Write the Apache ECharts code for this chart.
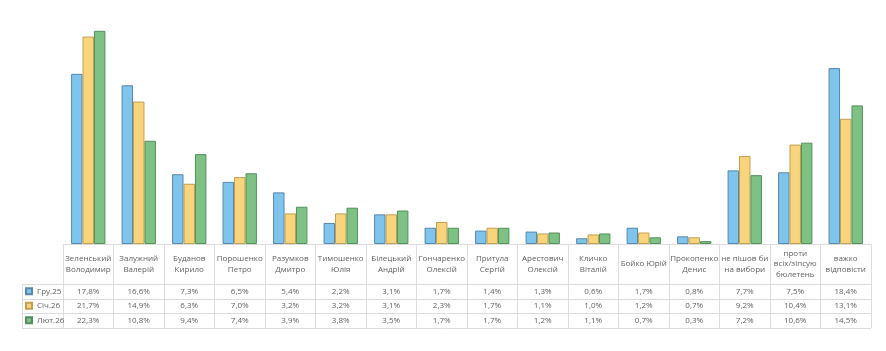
<!DOCTYPE html>
<html>
<head>
<meta charset="utf-8">
<script src="https://cdn.jsdelivr.net/npm/echarts@6/dist/echarts.min.js"></script>
<style>
    html, body { margin: 0; padding: 0; background: #fff; }
    #chart { width: 886px; height: 351px; }
</style>
</head>
<body>
<div id="chart"></div>
<script>
    'use strict';

    const candidates = [
        'Зеленський\nВолодимир', 'Залужний\nВалерій', 'Буданов\nКирило', 'Порошенко\nПетро',
        'Разумков\nДмитро', 'Тимошенко\nЮлія', 'Білецький\nАндрій', 'Гончаренко\nОлексій',
        'Притула\nСергій', 'Арестович\nОлексій', 'Кличко\nВіталій', 'Бойко Юрій',
        'Прокопенко\nДенис', 'не пішов би\nна вибори', 'проти\nвсіх/зіпсую\nбюлетень', 'важко\nвідповісти'
    ];
    const periods = ['Гру.25', 'Січ.26', 'Лют.26'];
    const dec25 = [17.8, 16.6, 7.3, 6.5, 5.4, 2.2, 3.1, 1.7, 1.4, 1.3, 0.6, 1.7, 0.8, 7.7, 7.5, 18.4];
    const jan26 = [21.7, 14.9, 6.3, 7.0, 3.2, 3.2, 3.1, 2.3, 1.7, 1.1, 1.0, 1.2, 0.7, 9.2, 10.4, 13.1];
    const feb26 = [22.3, 10.8, 9.4, 7.4, 3.9, 3.8, 3.5, 1.7, 1.7, 1.2, 1.1, 0.7, 0.3, 7.2, 10.6, 14.5];

    const values = [dec25, jan26, feb26];
    const fills = ['#7fc4ec', '#f8d47c', '#7dc185'];
    const borders = ['#5687ad', '#c29f52', '#53905b'];

    const font = '"Open Sans", sans-serif';
    const textColor = '#5f5f5f';
    const lineColor = '#dcdcdc';

    // table geometry (px)
    const tableLeft = 22, tableRight = 871, baseY = 244;
    const rowLines = [284, 299, 313, 328];
    const rowCenters = [291.5, 306, 320.5];

    const pct = v => v.toFixed(1).replace('.', ',') + '%';

    const chart = echarts.init(document.getElementById('chart'), null, { renderer: 'canvas' });

    const xAxes = [{
        type: 'category',
        data: candidates,
        position: 'bottom',
        axisLine: { show: true, lineStyle: { color: lineColor, width: 1 } },
        axisTick: { show: true, interval: 0, length: rowLines[3] - baseY, lineStyle: { color: lineColor } },
        axisLabel: {
            interval: 0, margin: 20, verticalAlign: 'middle',
            fontFamily: font, fontSize: 8, lineHeight: 10.5, color: textColor
        }
    }];
    values.forEach((arr, r) => {
        xAxes.push({
            type: 'category',
            data: candidates,
            position: 'bottom',
            offset: rowCenters[r] - baseY,
            axisLine: { show: false },
            axisTick: { show: false },
            axisLabel: {
                interval: 0, margin: 0, verticalAlign: 'middle',
                fontFamily: font, fontSize: 8, color: textColor,
                formatter: (v, i) => pct(arr[i])
            }
        });
    });

    const lines = rowLines.map(y => ({
        type: 'line',
        shape: { x1: tableLeft, y1: y + 0.5, x2: tableRight, y2: y + 0.5 },
        style: { stroke: lineColor, lineWidth: 1 }
    }));
    lines.push({
        type: 'line',
        shape: { x1: tableLeft + 0.5, y1: rowLines[0], x2: tableLeft + 0.5, y2: rowLines[3] },
        style: { stroke: lineColor, lineWidth: 1 }
    });

    chart.setOption({
        animation: false,
        backgroundColor: '#fff',
        grid: { left: 63, right: 886 - tableRight, top: 5, bottom: 351 - baseY },
        legend: {
            orient: 'vertical',
            left: 25,
            top: rowLines[0] + 2,
            padding: 0,
            itemWidth: 6,
            itemHeight: 6,
            itemGap: 4,
            icon: 'rect',
            textStyle: { fontFamily: font, fontSize: 8, color: textColor, lineHeight: 10.5 },
            data: periods
        },
        xAxis: xAxes,
        yAxis: { type: 'value', min: 0, max: 25, show: false, splitLine: { show: false } },
        series: periods.map((name, k) => ({
            name: name,
            type: 'bar',
            data: values[k],
            barGap: '0%',
            barCategoryGap: '32%',
            itemStyle: { color: fills[k], borderColor: borders[k], borderWidth: 1 }
        })),
        graphic: lines
    });
</script>
</body>
</html>
